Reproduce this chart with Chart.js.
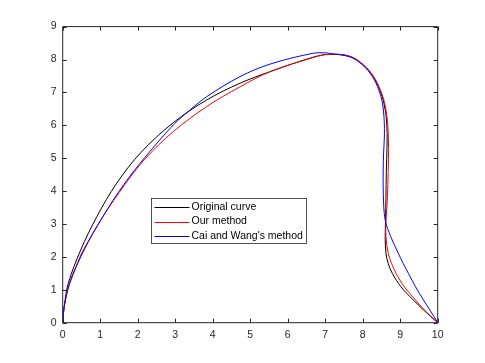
<!DOCTYPE html>
<html>
<head>
<meta charset="utf-8">
<script src="https://cdn.jsdelivr.net/npm/chart.js@4"></script>
<style>html,body{margin:0;padding:0;background:#fff}</style>
</head>
<body>
<canvas id="myChart" width="485" height="363"></canvas>
<script>
// curve names / colours
const seriesNames = ['Original curve', 'Our method', "Cai and Wang's method"]
const seriesColors = ['#000000', '#ff0000', '#0000ff']

// points (x, y)
const originalX = [0, 0.04, 0.15, 0.48, 0.91, 1.44, 2.09, 2.95, 3.84, 4.73, 5.53, 6.68, 7.13, 7.66, 8.02, 8.28, 8.46, 8.57, 8.64, 8.65, 8.63, 8.62, 8.61, 8.6, 8.62, 8.68, 8.79, 9.02, 9.35, 9.62, 10]
const originalY = [0, 0.49, 1.2, 2.21, 3.22, 4.24, 5.18, 6.08, 6.77, 7.28, 7.63, 8.07, 8.16, 8.09, 7.83, 7.48, 7.07, 6.65, 6.1, 5.4, 4.6, 3.8, 3.12, 2.61, 2.11, 1.8, 1.5, 1.09, 0.69, 0.39, 0]

const oursX = [0, 0.04, 0.18, 0.35, 0.55, 1.07, 1.66, 2.19, 2.95, 3.84, 4.73, 5.53, 6.68, 7.13, 7.66, 8.02, 8.28, 8.47, 8.6, 8.67, 8.69, 8.68, 8.66, 8.62, 8.62, 8.68, 8.77, 8.89, 9.11, 9.41, 9.64, 10]
const oursY = [0, 0.49, 1.2, 1.7, 2.21, 3.22, 4.2, 4.97, 5.81, 6.57, 7.17, 7.63, 8.06, 8.16, 8.1, 7.84, 7.5, 7.08, 6.6, 6.0, 5.3, 4.6, 3.8, 3.07, 2.61, 2.11, 1.8, 1.5, 1.09, 0.69, 0.39, 0]

const caiWangX = [0, 0.04, 0.19, 0.57, 1.07, 1.63, 2.19, 2.95, 3.39, 3.84, 4.73, 5.53, 6.68, 7.04, 7.13, 7.66, 8.0, 8.26, 8.43, 8.53, 8.58, 8.55, 8.55, 8.6, 8.75, 8.95, 9.08, 9.22, 9.41, 9.62, 9.8, 10]
const caiWangY = [0, 0.49, 1.2, 2.21, 3.22, 4.2, 5.02, 6.01, 6.46, 6.87, 7.48, 7.86, 8.19, 8.2, 8.18, 8.08, 7.83, 7.48, 7.07, 6.65, 5.9, 4.9, 3.9, 3.12, 2.61, 2.11, 1.8, 1.5, 1.09, 0.69, 0.37, 0]

const xTicks = [0, 1, 2, 3, 4, 5, 6, 7, 8, 9, 10]
const yTicks = [0, 1, 2, 3, 4, 5, 6, 7, 8, 9]

const axisColor = '#262626'
const fontFamily = '"Liberation Sans", Arial, sans-serif'

function pontos(xs, ys) {
    return xs.map((x, i) => ({ x: x, y: ys[i] }))
}

// MATLAB style box, inward ticks and legend
const caixaPlugin = {
    id: 'caixa',
    afterDraw(chart) {
        const ctx = chart.ctx
        const a = chart.chartArea
        const sx = chart.scales.x
        const sy = chart.scales.y
        ctx.save()
        ctx.strokeStyle = axisColor
        ctx.lineWidth = 1
        ctx.beginPath()
        ctx.rect(a.left, a.top, a.right - a.left, a.bottom - a.top)
        ctx.stroke()
        ctx.beginPath()
        xTicks.forEach(t => {
            const px = Math.round(sx.getPixelForValue(t)) + 0.5
            ctx.moveTo(px, a.bottom); ctx.lineTo(px, a.bottom - 4)
            ctx.moveTo(px, a.top); ctx.lineTo(px, a.top + 4)
        })
        yTicks.forEach(t => {
            const py = Math.round(sy.getPixelForValue(t)) + 0.5
            ctx.moveTo(a.left, py); ctx.lineTo(a.left + 4, py)
            ctx.moveTo(a.right, py); ctx.lineTo(a.right - 4, py)
        })
        ctx.stroke()

        // legend
        const lx = 151.5, ly = 198.5, lw = 155, lh = 45
        ctx.fillStyle = '#ffffff'
        ctx.fillRect(lx, ly, lw, lh)
        ctx.strokeStyle = axisColor
        ctx.lineWidth = 0.8
        ctx.strokeRect(lx, ly, lw, lh)
        ctx.font = '10.5px ' + fontFamily
        ctx.textBaseline = 'middle'
        ctx.textAlign = 'left'
        chart.data.datasets.forEach((ds, i) => {
            const y = ly + 8.5 + i * 14.6
            ctx.strokeStyle = ds.borderColor
            ctx.lineWidth = 1
            ctx.beginPath()
            ctx.moveTo(lx + 3, Math.round(y) + 0.5)
            ctx.lineTo(lx + 38, Math.round(y) + 0.5)
            ctx.stroke()
            ctx.fillStyle = '#000000'
            ctx.fillText(ds.label, lx + 40, y)
        })
        ctx.restore()
    }
}

function construirChart() {
    const ctx = document.getElementById('myChart')
    const xs = [originalX, oursX, caiWangX]
    const ys = [originalY, oursY, caiWangY]
    const myChart = new Chart(ctx, {
        type: 'scatter',
        data: {
            datasets: seriesNames.map((nome, i) => ({
                label: nome,
                data: pontos(xs[i], ys[i]),
                showLine: true,
                borderColor: seriesColors[i],
                backgroundColor: seriesColors[i],
                borderWidth: 1,
                pointRadius: 0,
                tension: 0.35,
                order: 3 - i,
            })),
        },
        options: {
            responsive: false,
            animation: false,
            devicePixelRatio: 1,
            layout: { padding: { top: 26.6, right: 47.3, left: 0, bottom: 0 } },
            plugins: { legend: { display: false }, tooltip: { enabled: false } },
            scales: {
                x: {
                    type: 'linear', min: 0, max: 10,
                    afterBuildTicks: s => { s.ticks = xTicks.map(v => ({ value: v })) },
                    afterFit: s => { s.height = 40.3 },
                    grid: { display: false, drawTicks: false },
                    border: { display: false },
                    ticks: { color: axisColor, padding: 6, maxRotation: 0, font: { size: 10.5, family: fontFamily } },
                },
                y: {
                    type: 'linear', min: 0, max: 9,
                    afterBuildTicks: s => { s.ticks = yTicks.map(v => ({ value: v })) },
                    afterFit: s => { s.width = 62.7 },
                    grid: { display: false, drawTicks: false },
                    border: { display: false },
                    ticks: { color: axisColor, padding: 6, font: { size: 10.5, family: fontFamily } },
                },
            },
        },
        plugins: [caixaPlugin],
    })
}

construirChart()
</script>
</body>
</html>
